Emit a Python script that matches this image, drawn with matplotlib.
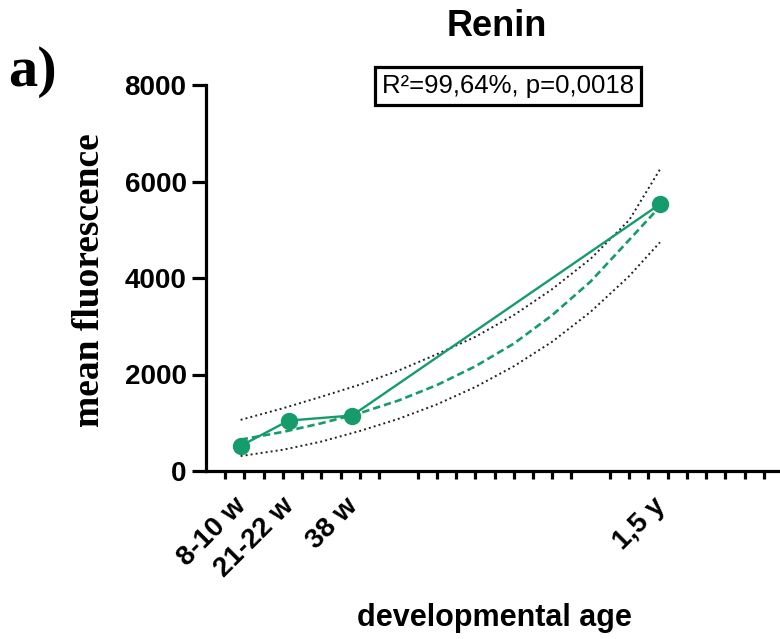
#!/usr/bin/env python3

# imports
import matplotlib
matplotlib.use('Agg')
import matplotlib.pyplot as plt
from matplotlib.transforms import ScaledTranslation

# data (x in weeks since conception)
ages = [9, 21.5, 38, 118]
age_labels = ['8-10 w', '21-22 w', '38 w', '1,5 y']
renin = [520, 1045, 1150, 5530]

# fitted curve and 95% band
fit_x = [9, 20, 30, 40, 50, 60, 70, 80, 90, 100, 110, 118]
fit_y = [650, 810, 990, 1200, 1460, 1780, 2170, 2640, 3230, 3930, 4790, 5480]
ci_upper = [1060, 1300, 1540, 1790, 2080, 2420, 2780, 3230, 3770, 4400, 5200, 6250]
ci_lower = [310, 440, 610, 830, 1080, 1380, 1740, 2170, 2680, 3300, 4040, 4740]

minor_ticks = [v for v in range(5, 150, 5) if v % 50 != 0]

green = '#169c6b'
sans = 'Liberation Sans'
serif = 'Liberation Serif'

fig = plt.figure(figsize=(7.8, 6.39), dpi=100)
ax = fig.add_axes([206/780, 168/639, 574/780, 386/639])

ax.plot(fit_x, ci_upper, color='#222222', lw=1.4, linestyle=(0, (1, 1.6)))
ax.plot(fit_x, ci_lower, color='#222222', lw=1.4, linestyle=(0, (1, 1.6)))
ax.plot(fit_x, fit_y, color=green, lw=1.9, linestyle=(0, (2.8, 1.5)))
ax.plot(ages, renin, color=green, lw=1.7, marker='o', markersize=11.5, zorder=5)

ax.set_xlim(0, 149.2)
ax.set_ylim(0, 8000)

# axes styling
for s in ['top', 'right']:
    ax.spines[s].set_visible(False)
for s in ['left', 'bottom']:
    ax.spines[s].set_linewidth(2.3)

ax.set_yticks([0, 2000, 4000, 6000, 8000])
ax.set_yticklabels(['0', '2000', '4000', '6000', '8000'], fontsize=20, fontweight='bold', family=sans)
ax.tick_params(axis='y', length=10, width=2.3, pad=4)

ax.set_xticks(ages)
ax.set_xticklabels(age_labels, rotation=45, ha='right', rotation_mode='anchor',
                   fontsize=20, fontweight='bold', family=sans)
ax.set_xticks(minor_ticks, minor=True)
ax.tick_params(axis='x', which='major', length=0, pad=16)
ax.tick_params(axis='x', which='minor', length=6, width=2.3)
# move the rotated labels so their ends sit at the tick
for lbl in ax.get_xticklabels():
    lbl.set_transform(lbl.get_transform() + ScaledTranslation(-0.08, 0, fig.dpi_scale_trans))

# texts
fig.text(497/780, 1 - 27/639, 'Renin', ha='center', va='center',
         fontsize=26, fontweight='bold', family=sans)
fig.text(508/780, 1 - 86/639, 'R²=99,64%, p=0,0018', ha='center', va='center',
         fontsize=18.5, family=sans,
         bbox=dict(boxstyle='square,pad=0.28', fc='white', ec='black', lw=2.3))
fig.text(33/780, 1 - 72/639, 'a)', ha='center', va='center', fontsize=42,
         fontweight='bold', family=serif)
fig.text(90/780, 1 - 280/639, 'mean fluorescence', rotation=90, ha='center', va='center',
         fontsize=27, fontweight='bold', family=serif)
fig.text(494/780, 1 - 618/639, 'developmental age', ha='center', va='center',
         fontsize=22, fontweight='bold', family=sans)

plt.savefig('out.png', dpi=100)
